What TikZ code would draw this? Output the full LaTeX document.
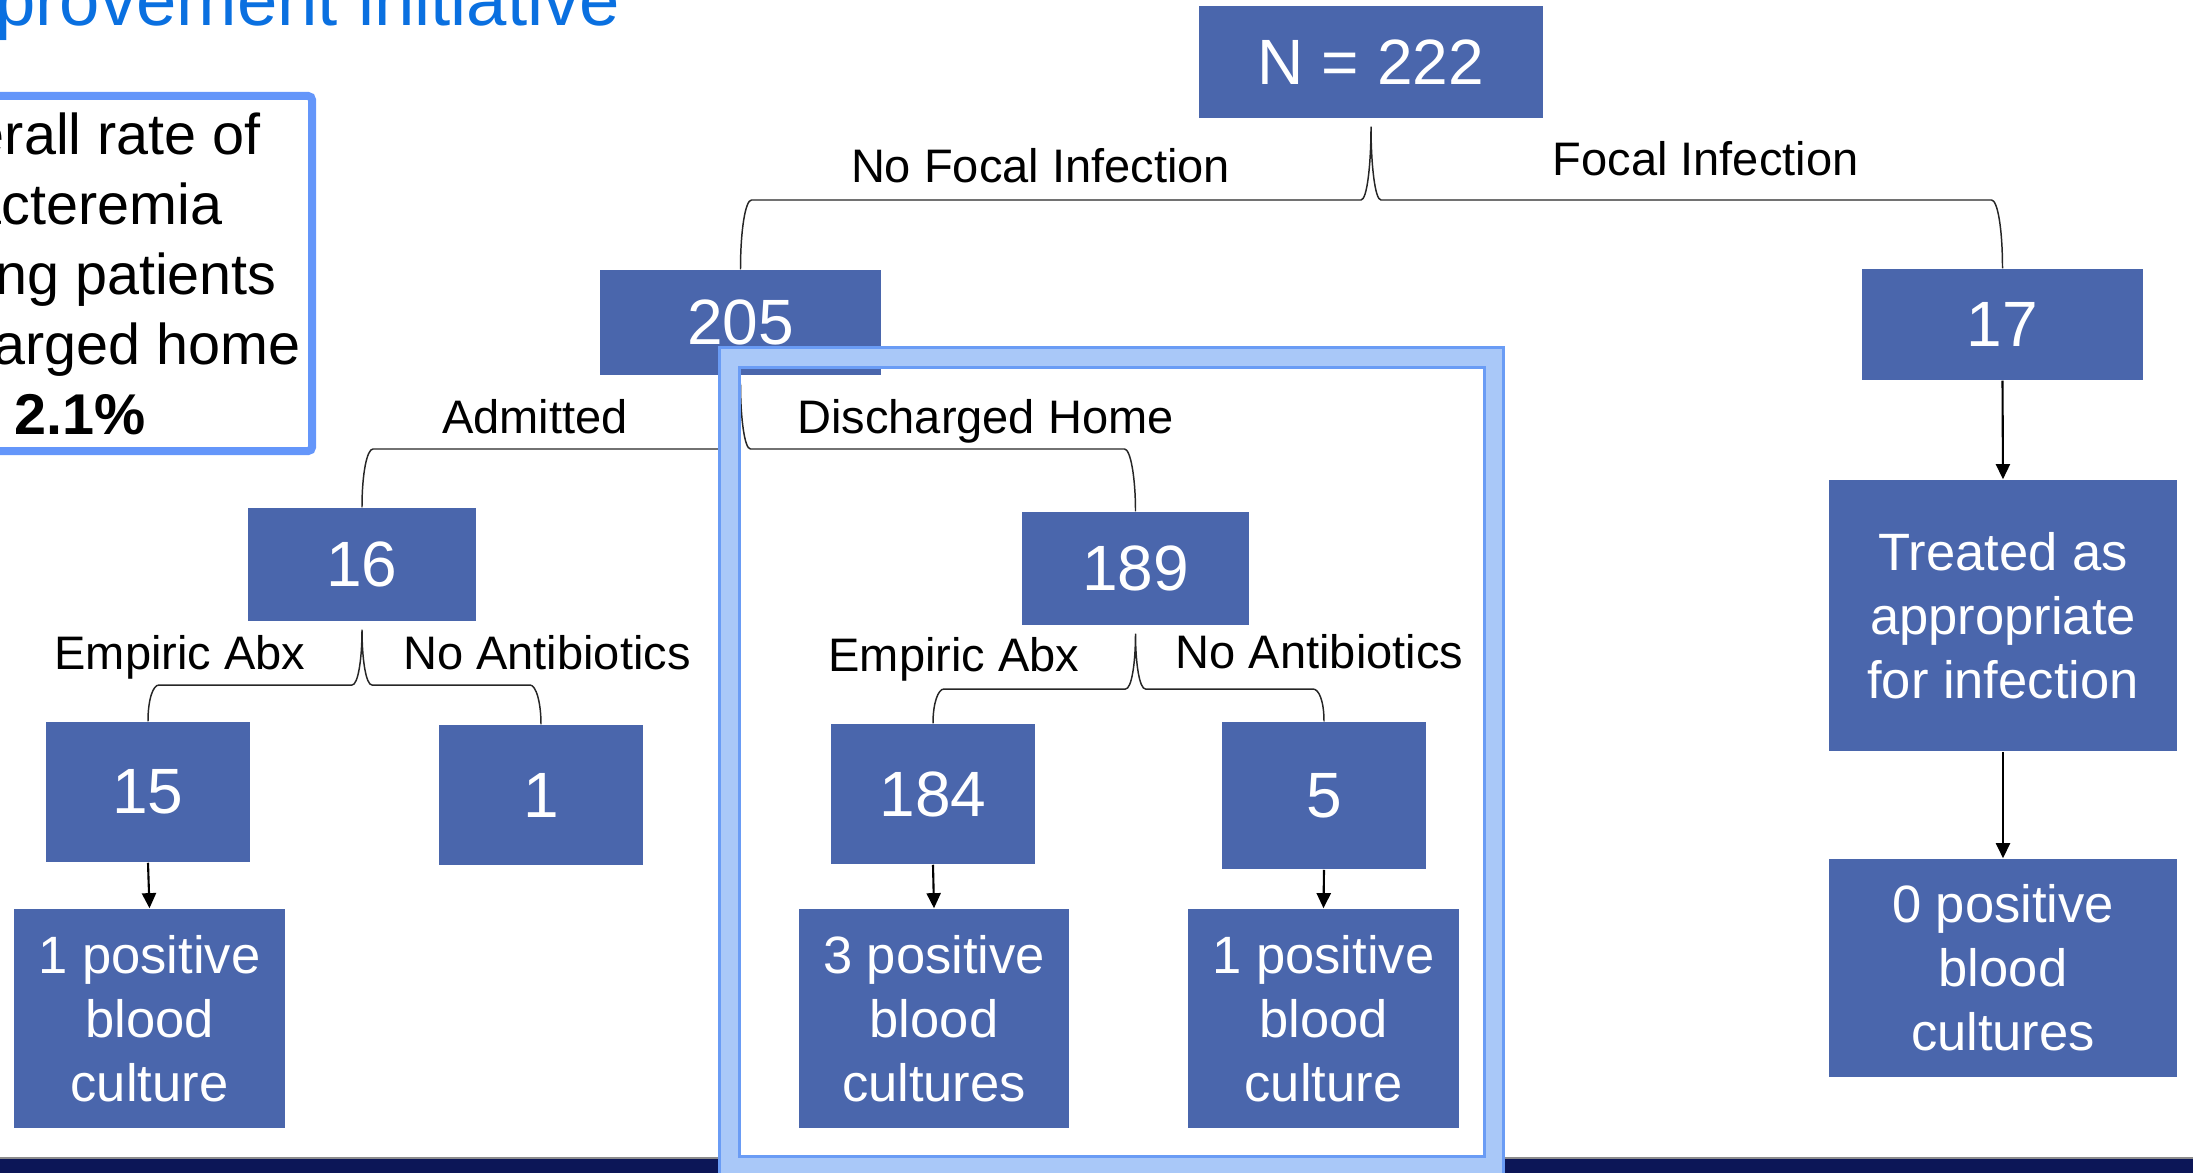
\documentclass[tikz,border=0pt]{standalone}
\usepackage{fontspec}
\setmainfont{Liberation Sans}
\usetikzlibrary{calc,arrows.meta}
\definecolor{boxblue}{HTML}{4A66AC}
\definecolor{titleblue}{HTML}{0A70E0}
\definecolor{infoblue}{HTML}{6496FA}
\definecolor{framelight}{HTML}{A9C8F8}
\definecolor{frameedge}{HTML}{6A9CF5}
\definecolor{navy}{HTML}{0C1657}
\newcommand\numfont{\fontsize{18.21pt}{22pt}\selectfont}
\newcommand\labfont{\fontsize{13.37pt}{16pt}\selectfont}
\newcommand\txtfont{\fontsize{14.94pt}{18.21pt}\selectfont}
\newcommand\infofont{\fontsize{16.36pt}{19.92pt}\selectfont}
\newcommand\titlefont{\fontsize{20.63pt}{24pt}\selectfont}
% parent, left child, right child, level coordinate, stem control, child control
\newcommand\splitbrace[6]{%
  \draw[brace] (#2.north) .. controls +(0,-#6) and +(-6,0) .. ($(#2.north|-#4)+(11,0)$)
    -- ($(#1.south|-#4)+(-10,0)$) .. controls +(6,0) and +(0,#5) .. ($(#1.south)+(0,8)$)
    .. controls +(0,#5) and +(-6,0) .. ($(#1.south|-#4)+(10,0)$)
    -- ($(#3.north|-#4)+(-11,0)$) .. controls +(6,0) and +(0,-#6) .. (#3.north);}
\begin{document}
\begin{tikzpicture}[x=0.01cm,y=-0.01cm,
  numbox/.style={fill=boxblue,text=white,inner sep=0pt,font=\numfont,align=center},
  txtbox/.style={fill=boxblue,text=white,inner sep=0pt,font=\txtfont,align=center},
  lab/.style={anchor=base,inner sep=0pt,font=\labfont,text=black},
  brace/.style={draw=black!85,line width=0.42pt},
  arr/.style={draw=black,line width=0.6pt,-{Triangle[length=4.3pt,width=4pt]}},
  infobox/.style={draw=infoblue,line width=2.28pt,rounded corners=1.2pt,fill=white,
    font=\infofont,align=center,inner sep=0pt}]
\useasboundingbox (0,0) rectangle (2193,1172);
\clip (0,0) rectangle (2193,1172);

% bottom band
\fill[navy] (0,1158) rectangle (2193,1180);
\draw[black!45,line width=0.4pt] (0,1158) -- (2193,1158);

% title (cut off)
\node[anchor=base east,inner sep=0pt,text=titleblue,font=\titlefont] (title) at (621,25) {provement initiative};

% info box
\node[infobox,minimum width=4.64cm,minimum height=3.55cm] (info) at (80,273.5)
  {Overall rate of\\bacteremia\\among patients\\discharged home\\\textbf{2.1\%}};

% boxes
\node[numbox,minimum width=3.44cm,minimum height=1.12cm] (n222) at (1371,62) {N = 222};
\node[numbox,minimum width=2.81cm,minimum height=1.05cm] (b205) at (740.5,322.5) {205};
\node[numbox,minimum width=2.81cm,minimum height=1.11cm] (b17) at (2002.5,324.5) {17};
\node[numbox,minimum width=2.28cm,minimum height=1.13cm] (b16) at (362,564.5) {16};
\node[numbox,minimum width=2.27cm,minimum height=1.13cm] (b189) at (1135.5,568.5) {189};
\node[numbox,minimum width=2.04cm,minimum height=1.40cm] (b15) at (148,792) {15};
\node[numbox,minimum width=2.04cm,minimum height=1.40cm] (b1) at (541,795) {1};
\node[numbox,minimum width=2.04cm,minimum height=1.40cm] (b184) at (933,794) {184};
\node[numbox,minimum width=2.04cm,minimum height=1.47cm] (b5) at (1324,795.5) {5};
\node[txtbox,minimum width=2.71cm,minimum height=2.19cm] (bp1) at (149.5,1018.5) {1 positive\\blood\\culture};
\node[txtbox,minimum width=2.70cm,minimum height=2.19cm] (bp3) at (934,1018.5) {3 positive\\blood\\cultures};
\node[txtbox,minimum width=2.71cm,minimum height=2.19cm] (bp5) at (1323.5,1018.5) {1 positive\\blood\\culture};
\node[txtbox,minimum width=3.48cm,minimum height=2.71cm] (btreat) at (2003,615.5) {Treated as\\appropriate\\for infection};
\node[txtbox,minimum width=3.48cm,minimum height=2.18cm] (bp0) at (2003,968) {0 positive\\blood\\cultures};

% labels
\node[lab] (lnf) at (1040.5,182) {No Focal Infection};
\node[lab] (lf) at (1705.5,175) {Focal Infection};
\node[lab] (ladm) at (535,433) {Admitted};
\node[lab] (ldis) at (985.5,433) {Discharged Home};
\node[lab] (lea1) at (180,669) {Empiric Abx};
\node[lab] (lna1) at (547,669) {No Antibiotics};
\node[lab] (lea2) at (954,671) {Empiric Abx};
\node[lab] (lna2) at (1319.5,668) {No Antibiotics};

% brace connectors
\coordinate (L1) at (0,200);
\coordinate (L2) at (0,449);
\coordinate (L3) at (0,685);
\coordinate (L4) at (0,689);
\splitbrace{n222}{b205}{b17}{L1}{38}{40}
\splitbrace{b205}{b16}{b189}{L2}{34}{34}
\splitbrace{b16}{b15}{b1}{L3}{30}{22}
\splitbrace{b189}{b184}{b5}{L4}{30}{20}

% arrows
\draw[arr] (b15.south) -- (bp1.north);
\draw[arr] (b184.south) -- (bp3.north);
\draw[arr] (b5.south) -- (bp5.north);
\draw[arr] (b17.south) -- (btreat.north);
\draw[arr] (btreat.south) -- (bp0.north);

% highlight frame
\draw[framelight,line width=5.69pt] (729,357) rectangle (1493.5,1166);
\draw[frameedge,line width=0.85pt] (719,347) rectangle (1503,1176);
\draw[frameedge,line width=0.85pt] (739,367) rectangle (1484,1156);
\end{tikzpicture}
\end{document}
